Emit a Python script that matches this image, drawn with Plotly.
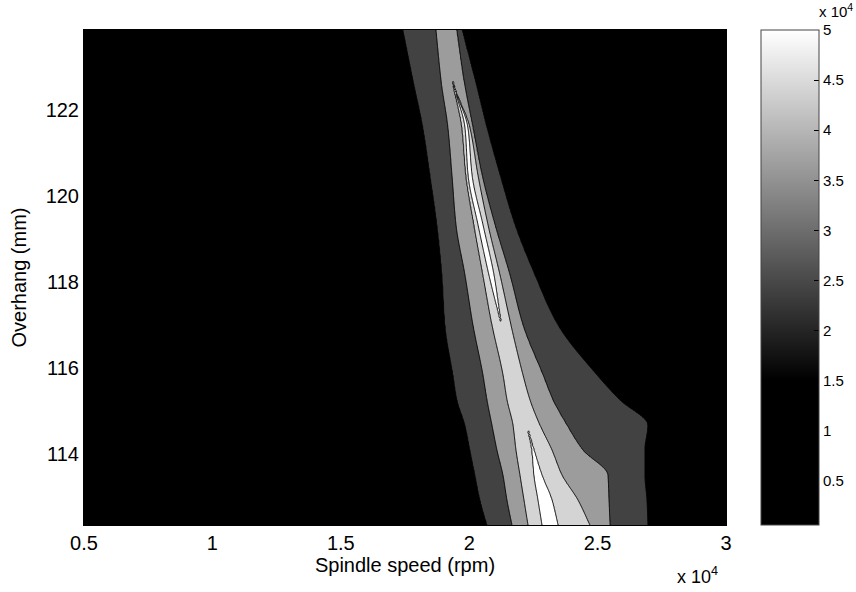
import numpy as np
import plotly.graph_objects as go

# ---- data (x in rpm, y in mm) ----
overhang = [123.86, 122.70, 121.58, 120.49, 119.33, 118.16, 117.00,
            115.84, 115.26, 114.67, 114.09, 113.51, 112.93, 112.35]
edge_dark_left = [17422, 17812, 18201, 18474, 18746, 18941, 19058,
                  19369, 19525, 19837, 20031, 20226, 20421, 20693]
edge_mid_left = [18707, 18902, 19175, 19330, 19486, 19837, 20148,
                 20537, 20693, 20888, 21083, 21316, 21472, 21667]
edge_light_left = [None, None, 19720, 19875, 20187, 20537, 20888,
                   21316, 21472, 21706, 21823, 21978, 22134, 22290]
edge_white_left = [None, None, 19837, 19953, 20343, 20771, None,
                   None, None, None, 22445, 22523, 22679, 22835]
edge_white_right = [None, None, 19953, 20109, 20537, 20966, None,
                    None, None, None, 22523, 22835, 23224, 23458]
edge_light_right = [None, None, 20031, 20343, 20732, 21199, 21628,
                    22095, 22368, 22757, 23224, 23614, 24237, 24704]
edge_mid_right = [19525, 19798, 20148, 20499, 21005, 21589, 22095,
                  22874, 23263, 23809, 24432, 25405, 25444, 25483]
edge_dark_right = [19720, 20226, 20693, 21199, 21784, 22562, 23458,
                   24977, 25872, 26963, 26846, 26846, 26924, 26963]

# contour levels (values on the x 10^4 colour scale)
level_dark, level_mid, level_light, level_white = 20000, 28000, 36000, 44000
z_floor, peak_mid, peak_light, peak_white = 1000, 32000, 40000, 49000

x_ticks = [5000, 10000, 15000, 20000, 25000, 30000]
x_ticktext = ["0.5", "1", "1.5", "2", "2.5", "3"]
y_ticks = [114, 116, 118, 120, 122]
cbar_ticks = [5000, 10000, 15000, 20000, 25000, 30000, 35000, 40000, 45000, 50000]
cbar_ticktext = ["0.5", "1", "1.5", "2", "2.5", "3", "3.5", "4", "4.5", "5"]
cbar_min, cbar_max, cbar_black_until = 600, 50000, 15000


# ---- build the z table needed by the contour trace ----
def close_band(left, right, outer_left, outer_right):
    """Where a band is absent, pinch it to the centre of the enclosing band."""
    L, R = [], []
    for l, r, ol, orr in zip(left, right, outer_left, outer_right):
        if l is None:
            c = 0.5 * (ol + orr)
            L.append(c); R.append(c)
        else:
            L.append(l); R.append(r)
    return L, R


def pchip(xk, yk, xq):
    xk = np.asarray(xk, float); yk = np.asarray(yk, float)
    h = np.diff(xk); d = np.diff(yk) / h
    n = len(xk)
    m = np.zeros(n)
    for k in range(1, n - 1):
        if d[k - 1] * d[k] > 0:
            w1 = 2 * h[k] + h[k - 1]; w2 = h[k] + 2 * h[k - 1]
            m[k] = (w1 + w2) / (w1 / d[k - 1] + w2 / d[k])
    m[0], m[-1] = d[0], d[-1]
    idx = np.clip(np.searchsorted(xk, xq) - 1, 0, n - 2)
    t = (xq - xk[idx]) / h[idx]
    h00 = 2 * t**3 - 3 * t**2 + 1
    h10 = t**3 - 2 * t**2 + t
    h01 = -2 * t**3 + 3 * t**2
    h11 = t**3 - t**2
    return (h00 * yk[idx] + h10 * h[idx] * m[idx]
            + h01 * yk[idx + 1] + h11 * h[idx] * m[idx + 1])


lt_l, lt_r = close_band(edge_light_left, edge_light_right, edge_mid_left, edge_mid_right)
wh_l, wh_r = close_band(edge_white_left, edge_white_right, lt_l, lt_r)

rows_y = np.asarray(overhang)[::-1]
y_grid = np.linspace(rows_y[0], rows_y[-1], 300)


def on_grid(vals):
    return pchip(rows_y, np.asarray(vals, dtype=float)[::-1], y_grid)


A, B = on_grid(edge_dark_left), on_grid(edge_mid_left)
C, D = on_grid(lt_l), on_grid(lt_r)
W1, W2 = on_grid(wh_l), on_grid(wh_r)
E, F = on_grid(edge_mid_right), on_grid(edge_dark_right)

x_grid = np.linspace(5000, 30000, 801)
z = np.empty((len(y_grid), len(x_grid)), dtype=np.float32)
for i in range(len(y_grid)):
    kx = [5000, A[i], B[i]]
    kz = [z_floor, level_dark, level_mid]
    if D[i] - C[i] < 1:
        kx.append(0.5 * (B[i] + E[i])); kz.append(peak_mid)
    else:
        kx.append(C[i]); kz.append(level_light)
        if W2[i] - W1[i] < 1 or W1[i] <= C[i] or W2[i] >= D[i]:
            kx.append(0.5 * (C[i] + D[i])); kz.append(peak_light)
        else:
            kx += [W1[i], 0.5 * (W1[i] + W2[i]), W2[i]]
            kz += [level_white, peak_white, level_white]
        kx.append(D[i]); kz.append(level_light)
    kx += [E[i], F[i], 30000]
    kz += [level_mid, level_dark, z_floor]
    z[i] = np.interp(x_grid, kx, kz)

FONT = "Liberation Sans, Arial, Helvetica, sans-serif"

fig = go.Figure()
fig.add_trace(go.Contour(
    x=x_grid, y=y_grid, z=z,
    contours=dict(start=level_dark, end=level_white, size=level_mid - level_dark,
                  coloring="fill", showlines=True),
    colorscale=[[0, "#000000"], [0.25, "#424242"], [0.5, "#9c9c9c"],
                [0.75, "#d4d4d4"], [1, "#ffffff"]],
    line=dict(color="black", width=1, smoothing=0.6),
    showscale=False, hoverinfo="skip",
))

# colorbar (continuous gray map, black below 1.5e4)
fig.add_trace(go.Scatter(
    x=[None], y=[None], mode="markers", showlegend=False, hoverinfo="skip",
    marker=dict(
        color=[cbar_min], cmin=cbar_min, cmax=cbar_max,
        colorscale=[[0, "#000000"],
                    [(cbar_black_until - cbar_min) / (cbar_max - cbar_min), "#000000"],
                    [1, "#ffffff"]],
        showscale=True,
        colorbar=dict(
            thickness=58, thicknessmode="pixels",
            len=495, lenmode="pixels",
            x=(761 - 84) / 642, xanchor="left", xpad=0,
            y=0.5, yanchor="middle", ypad=0,
            outlinewidth=1, outlinecolor="#444",
            tickvals=cbar_ticks, ticktext=cbar_ticktext,
            ticks="inside", ticklen=5, tickcolor="black",
            tickfont=dict(family=FONT, size=15, color="black"),
        ),
    ),
))

fig.update_layout(
    width=856, height=592,
    margin=dict(l=84, r=130, t=30, b=67, autoexpand=False),
    paper_bgcolor="white", plot_bgcolor="black",
    font=dict(family=FONT, size=20, color="black"),
    showlegend=False,
    xaxis=dict(range=[5000, 30000], tickvals=x_ticks, ticktext=x_ticktext,
               showgrid=False, zeroline=False, ticks="", automargin=False,
               showline=True, linecolor="black", mirror=True,
               tickfont=dict(size=20),
               title=dict(text="Spindle speed (rpm)", font=dict(size=20), standoff=4)),
    yaxis=dict(range=[112.35, 123.86], tickvals=y_ticks,
               showgrid=False, zeroline=False, ticks="", automargin=False,
               showline=True, linecolor="black", mirror=True,
               tickfont=dict(size=20),
               title=dict(text="Overhang (mm)", font=dict(size=20), standoff=13)),
    annotations=[
        dict(text="x 10<sup>4</sup>", xref="paper", yref="paper",
             x=(697 - 84) / 642, y=(525 - 575) / 495, showarrow=False,
             xanchor="center", yanchor="middle", font=dict(size=18)),
        dict(text="x 10<sup>4</sup>", xref="paper", yref="paper",
             x=(836 - 84) / 642, y=1 + (30 - 22) / 495, showarrow=False,
             xanchor="center", yanchor="bottom", font=dict(size=15)),
    ],
)

fig.write_html("out.html", config={"displayModeBar": False},
               post_script="document.body.style.margin='0';")
